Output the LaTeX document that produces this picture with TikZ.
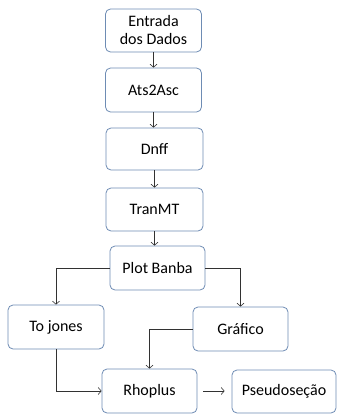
\documentclass[tikz,border=0pt]{standalone}
\usepackage{fontspec}
\setmainfont{Carlito}
\usetikzlibrary{arrows.meta}
\definecolor{boxline}{RGB}{110,140,180}
\definecolor{arr}{RGB}{50,50,50}
\tikzset{
  box/.style={draw=boxline, line width=0.8pt, rounded corners=5pt, fill=white, align=center, font=\fontsize{16}{18}\selectfont, inner sep=1pt},
  conn/.style={draw=arr, line width=0.6pt, -{Straight Barb[length=3pt,width=7pt]}}
}
\begin{document}
\begin{tikzpicture}[x=1pt,y=-1pt]
\useasboundingbox (0,0) rectangle (337,415);
\node[box, minimum width=96pt, minimum height=43pt] (ent) at (153.5,30.5) {Entrada\\dos Dados};
\node[box, minimum width=96pt, minimum height=44pt] (ats) at (153.5,90) {Ats2Asc};
\node[box, minimum width=97pt, minimum height=42pt] (dnf) at (154.5,149) {Dnff};
\node[box, minimum width=97pt, minimum height=43pt] (tra) at (154.5,209.5) {TranMT};
\node[box, minimum width=95pt, minimum height=44pt] (plo) at (157.5,268) {Plot Banba};
\node[box, minimum width=96pt, minimum height=44pt] (toj) at (56,327) {To jones};
\node[box, minimum width=95pt, minimum height=44pt] (gra) at (240.5,329) {Gráfico};
\node[box, minimum width=95pt, minimum height=44pt] (rho) at (149.5,391) {Rhoplus};
\node[box, minimum width=104pt, minimum height=43pt] (pse) at (284,391.5) {Pseudoseção};
\draw[conn] (ent.south -| ats.north) -- (ats.north);
\draw[conn] (ats.south) -- (ats.south |- dnf.north);
\draw[conn] (dnf.south) -- (tra.north);
\draw[conn] (tra.south) -- (tra.south |- plo.north);
\draw[conn] (plo.west) -| (toj.north);
\draw[conn] (plo.east) -| (gra.north);
\draw[conn] (gra.west) -| (rho.north);
\draw[conn] (toj.south) |- (rho.west);
\draw[conn, shorten <=6pt, shorten >=7pt] (rho.east) -- (rho.east -| pse.west);
\end{tikzpicture}
\end{document}
